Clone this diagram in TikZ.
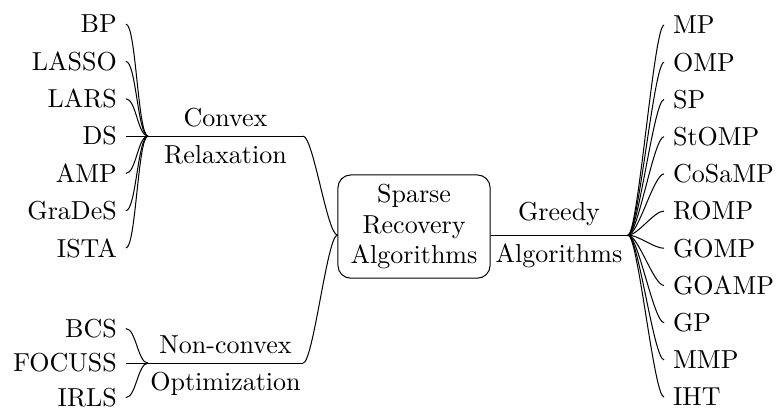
\documentclass[tikz,border=0pt]{standalone}
\usetikzlibrary{positioning}

\tikzset{
	lbr/.style={out=180,in=0,distance=4pt},
	rbr/.style={out=0,in=180,distance=4pt},
	rootbox/.style={draw,rounded corners=5pt,align=center,inner xsep=5pt,inner ysep=3.6pt}
}

\begin{document}
\begin{tikzpicture}[font=\fontsize{10.2}{12}\selectfont]
	\useasboundingbox (0,0) rectangle (10.71,5.68);

	\node[rootbox] (root) at (5.707,2.557) {Sparse\\Recovery\\Algorithms};

	% convex relaxation
	\coordinate (cvxw) at (2.040,3.804);
	\coordinate (cvxe) at (4.177,3.804);
	\draw (cvxw) -- (cvxe);
	\node[above] (cvxt) at (3.108,3.804) {Convex};
	\node[below] (cvxb) at (3.108,3.804) {Relaxation};
	\node[anchor=east] (bp) at (1.735,5.348) {BP};
	\node[anchor=east] (lasso) at (1.735,4.833) {LASSO};
	\node[anchor=east] (lars) at (1.735,4.319) {LARS};
	\node[anchor=east] (ds) at (1.735,3.804) {DS};
	\node[anchor=east] (amp) at (1.735,3.290) {AMP};
	\node[anchor=east] (grades) at (1.735,2.776) {GraDeS};
	\node[anchor=east] (ista) at (1.735,2.261) {ISTA};
	\draw (cvxw) to[lbr] (bp.east);
	\draw (cvxw) to[lbr] (lasso.east);
	\draw (cvxw) to[lbr] (lars.east);
	\draw (cvxw) -- (ds.east);
	\draw (cvxw) to[lbr] (amp.east);
	\draw (cvxw) to[lbr] (grades.east);
	\draw (cvxw) to[lbr] (ista.east);

	% non-convex optimization
	\coordinate (ncvw) at (2.040,0.675);
	\coordinate (ncve) at (4.177,0.675);
	\draw (ncvw) -- (ncve);
	\node[above] (ncvt) at (3.108,0.675) {Non-convex};
	\node[below] (ncvb) at (3.108,0.675) {Optimization};
	\node[anchor=east] (bcs) at (1.735,1.151) {BCS};
	\node[anchor=east] (focuss) at (1.735,0.675) {FOCUSS};
	\node[anchor=east] (irls) at (1.735,0.200) {IRLS};
	\draw (ncvw) to[lbr] (bcs.east);
	\draw (ncvw) -- (focuss.east);
	\draw (ncvw) to[lbr] (irls.east);

	% greedy algorithms
	\coordinate (gj) at (8.656,2.440);
	\draw (root.east |- gj) -- (gj);
	\node[above] (grdt) at (7.705,2.440) {Greedy};
	\node[below] (grdb) at (7.705,2.440) {Algorithms};
	\node[anchor=west] (mp) at (9.153,5.334) {MP};
	\node[anchor=west] (omp) at (9.153,4.822) {OMP};
	\node[anchor=west] (sp) at (9.153,4.309) {SP};
	\node[anchor=west] (stomp) at (9.153,3.796) {StOMP};
	\node[anchor=west] (cosamp) at (9.153,3.283) {CoSaMP};
	\node[anchor=west] (romp) at (9.153,2.771) {ROMP};
	\node[anchor=west] (gomp) at (9.153,2.258) {GOMP};
	\node[anchor=west] (goamp) at (9.153,1.745) {GOAMP};
	\node[anchor=west] (gp) at (9.153,1.232) {GP};
	\node[anchor=west] (mmp) at (9.153,0.720) {MMP};
	\node[anchor=west] (iht) at (9.153,0.207) {IHT};
	\draw (gj) to[rbr] (mp.west);
	\draw (gj) to[rbr] (omp.west);
	\draw (gj) to[rbr] (sp.west);
	\draw (gj) to[rbr] (stomp.west);
	\draw (gj) to[rbr] (cosamp.west);
	\draw (gj) to[rbr] (romp.west);
	\draw (gj) to[rbr] (gomp.west);
	\draw (gj) to[rbr] (goamp.west);
	\draw (gj) to[rbr] (gp.west);
	\draw (gj) to[rbr] (mmp.west);
	\draw (gj) to[rbr] (iht.west);

	% root to the two left branches
	\draw (root.west |- gj) to[lbr] (cvxe);
	\draw (root.west |- gj) to[lbr] (ncve);
\end{tikzpicture}
\end{document}
